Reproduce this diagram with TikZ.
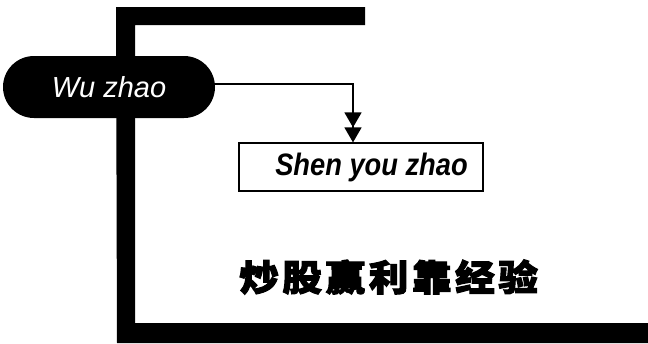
\documentclass[tikz,border=0pt]{standalone}
\usepackage{fontspec}
\setmainfont{Liberation Sans}
\newfontfamily\cjk[LetterSpace=10,FakeBold=3,FakeStretch=1.1]{Noto Sans CJK SC}
\usetikzlibrary{arrows.meta}
\begin{document}
\begin{tikzpicture}[x=1pt,y=-1pt,
  framebar/.style={fill=black},
  pill/.style={fill=black,rounded corners=31pt,minimum width=212pt,minimum height=62pt,inner sep=0pt,text=white,font=\itshape\fontsize{29}{29}\selectfont},
  stepbox/.style={draw=black,line width=1.2pt,minimum width=244pt,minimum height=48pt,inner sep=0pt,font=\bfseries\itshape\fontsize{31}{31}\selectfont},
  title/.style={anchor=west,inner sep=0pt,font=\cjk\bfseries\fontsize{36}{36}\selectfont},
  conn/.style={line width=1.5pt,-{Triangle[length=15pt,width=17pt]Triangle[length=15pt,width=17pt]}}]
\useasboundingbox (0,0) rectangle (648,343);
\fill[framebar] (116,7) -- (365,7) -- (365,25) -- (135,25) -- (135,323) -- (648,323) -- (648,343) -- (117,343) -- cycle;
\node[pill] (wu) at (109,87) {Wu zhao};
\node[stepbox] (shen) at (361,167) {\hspace{21pt}\scalebox{0.88}[1]{Shen you zhao}};
\draw[conn] ([yshift=3pt]wu.east) -| ([xshift=-8pt]shen.north);
\node[title] (t) at (239,277) {炒股赢利靠经验};
\end{tikzpicture}
\end{document}
